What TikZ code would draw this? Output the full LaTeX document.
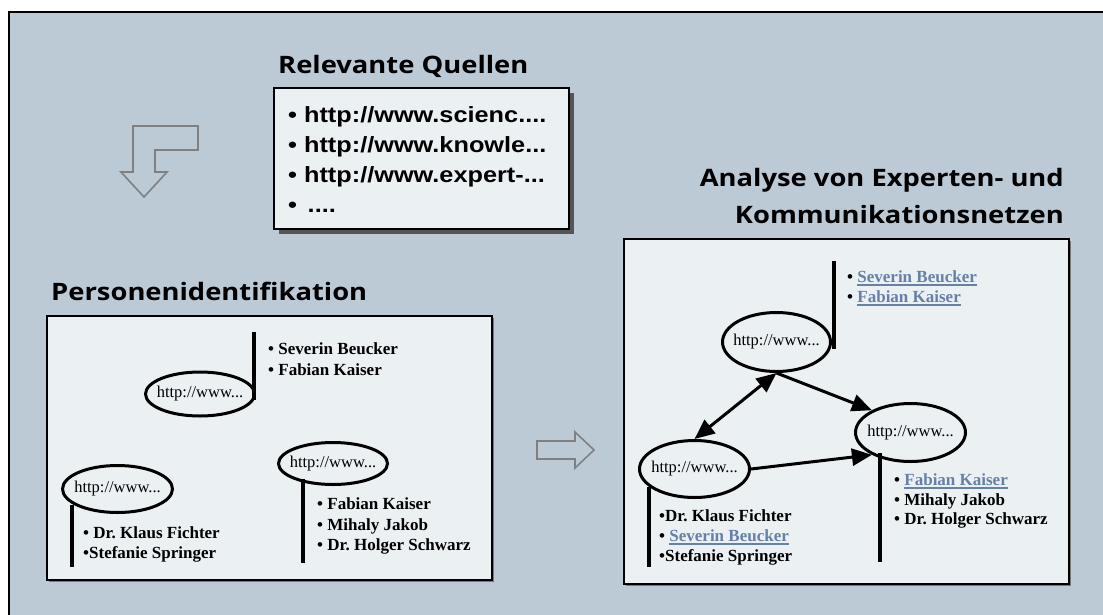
\documentclass[tikz,border=0pt]{standalone}
\usepackage{fontspec}
\setmainfont{Liberation Serif}
\newfontfamily\headfont[FakeStretch=1.14]{Open Sans}
\newfontfamily\listfont[FakeStretch=1.15]{Liberation Sans}
\usetikzlibrary{shapes.geometric,arrows.meta}
\definecolor{bgc}{RGB}{188,202,214}
\definecolor{panelc}{RGB}{235,240,243}
\definecolor{outlinec}{RGB}{128,128,128}
\definecolor{linkc}{RGB}{102,128,166}
\definecolor{shadowc}{RGB}{85,85,85}
\definecolor{softshadow}{RGB}{120,120,120}
\frenchspacing
\newsavebox\ulbox
\newcommand\ulink[1]{\sbox\ulbox{\color{linkc}#1}{\color{linkc}\rlap{\rule[-3.5pt]{\wd\ulbox}{1.8pt}}}\usebox\ulbox}

\begin{document}
\begin{tikzpicture}[x=1pt,y=-1pt,
  heading/.style={inner sep=0,font=\headfont\bfseries\fontsize{24}{28}\selectfont},
  panel/.style={draw=black,fill=panelc,line width=1.2pt},
  site/.style={ellipse,draw=black,line width=3pt,inner sep=0,font=\fontsize{16.5}{20}\selectfont},
  names/.style={anchor=base west,inner sep=0,font=\bfseries\fontsize{17}{20}\selectfont},
  stem/.style={line width=4pt},
  link/.style={line width=3pt,-{Triangle[length=20pt,width=17pt]}},
  hollow/.style={draw=outlinec,line width=1.6pt,line join=miter},
  url/.style={anchor=base west,inner sep=0,font=\listfont\bfseries\fontsize{22}{30}\selectfont}]

\useasboundingbox (0,0) rectangle (1103,614);
\fill[white] (0,0) rectangle (1103,614);
% slide background
\draw[fill=bgc,line width=2pt] (9,12) rectangle (1120,630);

% ---- sources ----
\node[heading,anchor=base west] (tq) at (278,73) {Relevante Quellen};
\fill[shadowc] (279,93) rectangle (574,234);
\draw[panel] (274,88) rectangle (569,229);
\node[url] (q1) at (288,122) {• http://www.scienc....};
\node[url] (q2) at (288,152) {• http://www.knowle...};
\node[url] (q3) at (288,182) {• http://www.expert-...};
\node[url] (q4) at (288,212) {• \,....};

% bent hollow arrow
\draw[hollow] (133,126) -- (198,126) -- (198,150) -- (155,150) -- (155,172)
  -- (167,172) -- (144,197) -- (121,172) -- (133,172) -- cycle;

% ---- person identification ----
\node[heading,anchor=base west] (tp) at (51,300) {Personenidentifikation};
\fill[softshadow] (49,318) rectangle (494,582);
\draw[panel] (47,316) rectangle (492,580);

\draw[stem] (254,332) -- (254,400);
\node[site,minimum width=109pt,minimum height=44pt] (p1) at (200,394) {\makebox[0pt]{http://www...}};
\node[names] (p1a) at (268,354) {• Severin Beucker};
\node[names] (p1b) at (268,375) {• Fabian Kaiser};

\node[site,minimum width=110pt,minimum height=47pt] (p2) at (117.5,489) {\makebox[0pt]{http://www...}};
\draw[stem] (72,505) -- (72,567);
\node[names] (p2a) at (83,538) {• Dr. Klaus Fichter};
\node[names] (p2b) at (83,558) {•Stefanie Springer};

\node[site,minimum width=109pt,minimum height=42pt] (p3) at (333,463.5) {\makebox[0pt]{http://www...}};
\draw[stem] (303,479) -- (303,563);
\node[names] (p3a) at (317,509) {• Fabian Kaiser};
\node[names] (p3b) at (317,530) {• Mihaly Jakob};
\node[names] (p3c) at (317,550) {• Dr. Holger Schwarz};

% hollow arrow to the right
\draw[hollow] (537,441) -- (575,441) -- (575,432) -- (594,450) -- (575,468)
  -- (575,459) -- (537,459) -- cycle;

% ---- network analysis ----
\node[heading,anchor=base east] (ta1) at (1064,186) {Analyse von Experten- und};
\node[heading,anchor=base east] (ta2) at (1064,223) {Kommunikationsnetzen};
\fill[softshadow] (626,241) rectangle (1071,586);
\draw[panel] (624,239) rectangle (1069,584);

\draw[stem] (834,261) -- (834,349);
\node[site,minimum width=108pt,minimum height=59pt] (nt) at (776.5,342) {\makebox[0pt]{http://www...}};
\node[names] (nta) at (847,282) {• \ulink{Severin Beucker}};
\node[names] (ntb) at (847,302.5) {• \ulink{Fabian Kaiser}};

\node[site,minimum width=110pt,minimum height=58pt] (nr) at (910.5,432.5) {\makebox[0pt]{http://www...}};
\draw[stem] (880,453) -- (880,562);
\node[names] (nra) at (894,485) {• \ulink{Fabian Kaiser}};
\node[names] (nrb) at (894,505) {• Mihaly Jakob};
\node[names] (nrc) at (894,524.5) {• Dr. Holger Schwarz};

\node[site,minimum width=110pt,minimum height=57pt] (nl) at (694.5,469) {\makebox[0pt]{http://www...}};
\draw[stem] (649,487) -- (649,567);
\node[names] (nla) at (659,521) {•Dr. Klaus Fichter};
\node[names] (nlb) at (659,541) {• \ulink{Severin Beucker}};
\node[names] (nlc) at (659,561) {•Stefanie Springer};

% links between sites
\draw[link,{Triangle[length=20pt,width=17pt]}-{Triangle[length=20pt,width=17pt]}] (nt.south) -- (nl.north);
\draw[link] (nt.south) -- (nr.150);
\draw[link] (nl.east) -- (nr.210);
\end{tikzpicture}
\end{document}
